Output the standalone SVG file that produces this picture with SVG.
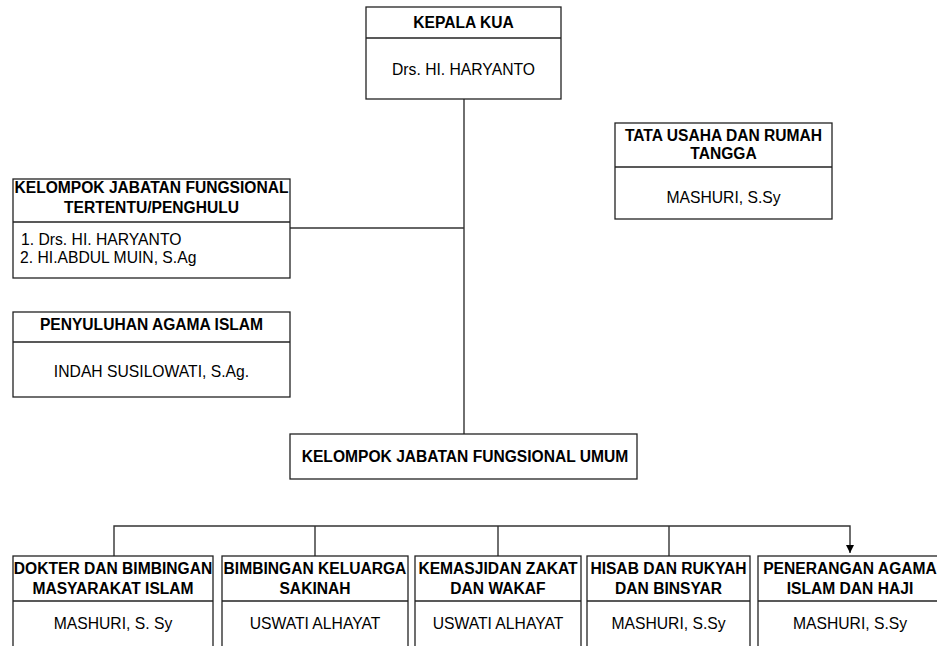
<svg xmlns="http://www.w3.org/2000/svg" width="937" height="646" viewBox="0 0 937 646">
<defs>
<style>
.box{fill:#fff;stroke:#222;stroke-width:1.3}
.div{stroke:#222;stroke-width:1.3}
.con{fill:none;stroke:#333;stroke-width:1.4}
.t{font-family:"Liberation Sans",Arial,sans-serif;font-size:15.6px;font-weight:bold;fill:#000;text-anchor:middle}
.n{font-family:"Liberation Sans",Arial,sans-serif;font-size:15.7px;fill:#000;text-anchor:middle}
.l{font-family:"Liberation Sans",Arial,sans-serif;font-size:15.7px;fill:#000}
</style>
<marker id="arr" viewBox="0 0 10 10" refX="10" refY="5" markerWidth="8" markerHeight="8" markerUnits="userSpaceOnUse" orient="auto">
<path d="M0,0 L10,5 L0,10 z" fill="#000"/>
</marker>
</defs>
<rect width="937" height="646" fill="#fff"/>
<g id="connectors">
<line class="con" x1="464" y1="99" x2="464" y2="434"/>
<line class="con" x1="290" y1="228" x2="464" y2="228"/>
<polyline class="con" points="114,556 114,526 850,526 850,553" marker-end="url(#arr)"/>
<line class="con" x1="315" y1="526" x2="315" y2="556"/>
<line class="con" x1="498" y1="526" x2="498" y2="556"/>
<line class="con" x1="669" y1="526" x2="669" y2="556"/>
</g>
<g id="kepala">
<rect class="box" x="366" y="7" width="195" height="92"/>
<line class="div" x1="366" y1="38" x2="561" y2="38"/>
<text class="t" x="463.5" y="28">KEPALA KUA</text>
<text class="n" x="463.5" y="75">Drs. HI. HARYANTO</text>
</g>
<g id="fungsional-tertentu">
<rect class="box" x="13" y="179" width="277" height="99"/>
<line class="div" x1="13" y1="222" x2="290" y2="222"/>
<text class="t" x="151.5" y="193">KELOMPOK JABATAN FUNGSIONAL</text>
<text class="t" x="151.5" y="213">TERTENTU/PENGHULU</text>
<text class="l" x="21" y="245">1. Drs. HI. HARYANTO</text>
<text class="l" x="20" y="263">2. HI.ABDUL MUIN, S.Ag</text>
</g>
<g id="penyuluhan">
<rect class="box" x="13" y="312" width="277" height="85"/>
<line class="div" x1="13" y1="342" x2="290" y2="342"/>
<text class="t" x="151.5" y="330">PENYULUHAN AGAMA ISLAM</text>
<text class="n" x="151.5" y="377">INDAH SUSILOWATI, S.Ag.</text>
</g>
<g id="tata-usaha">
<rect class="box" x="615" y="123" width="217" height="96"/>
<line class="div" x1="615" y1="167" x2="832" y2="167"/>
<text class="t" x="723.5" y="141">TATA USAHA DAN RUMAH</text>
<text class="t" x="723.5" y="159">TANGGA</text>
<text class="n" x="723.5" y="203">MASHURI, S.Sy</text>
</g>
<g id="fungsional-umum">
<rect class="box" x="290" y="434" width="347" height="45"/>
<text class="t" x="465" y="462">KELOMPOK JABATAN FUNGSIONAL UMUM</text>
</g>
<g id="dokter">
<rect class="box" x="13" y="556" width="200" height="110"/>
<line class="div" x1="13" y1="601" x2="213" y2="601"/>
<text class="t" x="113" y="574">DOKTER DAN BIMBINGAN</text>
<text class="t" x="113" y="594">MASYARAKAT ISLAM</text>
<text class="n" x="113" y="629">MASHURI, S. Sy</text>
</g>
<g id="keluarga">
<rect class="box" x="222" y="556" width="186" height="110"/>
<line class="div" x1="222" y1="601" x2="408" y2="601"/>
<text class="t" x="315" y="574">BIMBINGAN KELUARGA</text>
<text class="t" x="315" y="594">SAKINAH</text>
<text class="n" x="315" y="629">USWATI ALHAYAT</text>
</g>
<g id="kemasjidan">
<rect class="box" x="415" y="556" width="166" height="110"/>
<line class="div" x1="415" y1="601" x2="581" y2="601"/>
<text class="t" x="498" y="574">KEMASJIDAN ZAKAT</text>
<text class="t" x="498" y="594">DAN WAKAF</text>
<text class="n" x="498" y="629">USWATI ALHAYAT</text>
</g>
<g id="hisab">
<rect class="box" x="587" y="556" width="163" height="110"/>
<line class="div" x1="587" y1="601" x2="750" y2="601"/>
<text class="t" x="668.5" y="574">HISAB DAN RUKYAH</text>
<text class="t" x="668.5" y="594">DAN BINSYAR</text>
<text class="n" x="668.5" y="629">MASHURI, S.Sy</text>
</g>
<g id="penerangan">
<rect class="box" x="758" y="556" width="190" height="110"/>
<line class="div" x1="758" y1="601" x2="948" y2="601"/>
<text class="t" x="850" y="574">PENERANGAN AGAMA</text>
<text class="t" x="850" y="594">ISLAM DAN HAJI</text>
<text class="n" x="850" y="629">MASHURI, S.Sy</text>
</g>
</svg>
